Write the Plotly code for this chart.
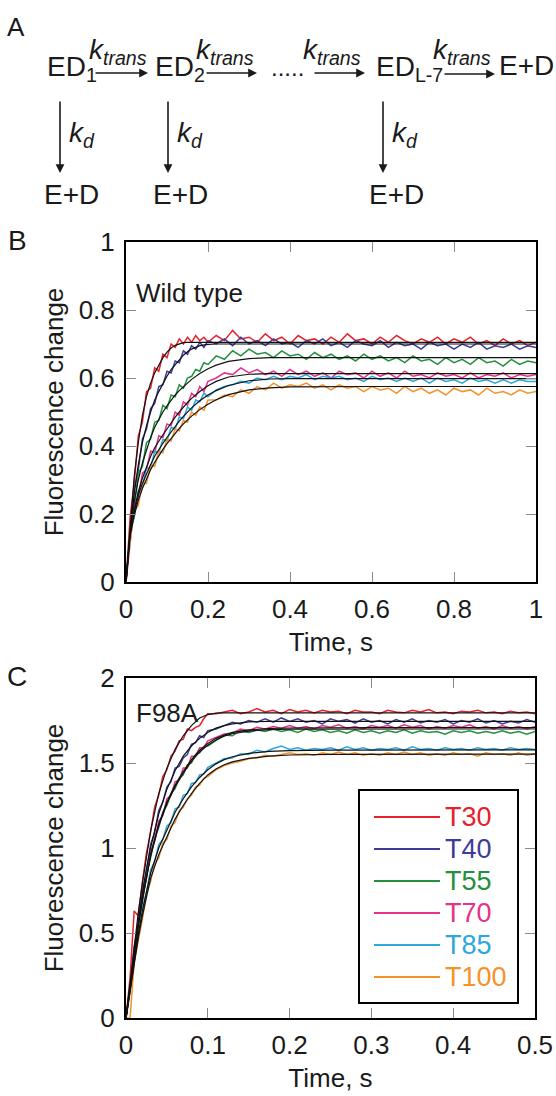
import plotly.graph_objects as go

# ---------------- data ----------------
series = ["T30", "T40", "T55", "T70", "T85", "T100"]
colors = ["#E8202A", "#3D3D99", "#22903C", "#E6338A", "#2BA8E0", "#F5922A"]

# Panel B (wild type), time in s
tB = [0.00, 0.01, 0.02, 0.03, 0.04, 0.05, 0.06, 0.07, 0.08, 0.09, 0.10, 0.11, 0.12, 0.13, 0.14,
      0.15, 0.16, 0.17, 0.18, 0.19, 0.20, 0.22, 0.24, 0.26, 0.28, 0.30, 0.32, 0.34, 0.36, 0.38,
      0.40, 0.42, 0.44, 0.46, 0.48, 0.50, 0.52, 0.54, 0.56, 0.58, 0.60, 0.62, 0.64, 0.66, 0.68,
      0.70, 0.72, 0.74, 0.76, 0.78, 0.80, 0.82, 0.84, 0.86, 0.88, 0.90, 0.92, 0.94, 0.96, 0.98, 1.00]

B_T30 = [0.0, 0.19, 0.29, 0.43, 0.47, 0.56, 0.57, 0.63, 0.62, 0.67, 0.66, 0.70, 0.69, 0.715, 0.70,
         0.72, 0.705, 0.725, 0.71, 0.72, 0.705,
         0.725, 0.71, 0.74, 0.715, 0.72, 0.705, 0.73, 0.71, 0.72, 0.70, 0.725, 0.71, 0.715, 0.70, 0.72,
         0.705, 0.73, 0.71, 0.715, 0.70, 0.72, 0.705, 0.725, 0.71, 0.70, 0.715, 0.705, 0.72, 0.70, 0.715,
         0.705, 0.72, 0.70, 0.71, 0.695, 0.715, 0.70, 0.71, 0.695, 0.705]
B_T40 = [0.0, 0.13, 0.27, 0.33, 0.42, 0.45, 0.51, 0.525, 0.575, 0.58, 0.62, 0.615, 0.65, 0.645, 0.68,
         0.67, 0.695, 0.685, 0.705, 0.69, 0.71,
         0.70, 0.715, 0.695, 0.72, 0.70, 0.71, 0.695, 0.715, 0.70, 0.705, 0.69, 0.71, 0.70, 0.715, 0.695,
         0.705, 0.69, 0.71, 0.70, 0.695, 0.71, 0.69, 0.705, 0.695, 0.70, 0.685, 0.705, 0.695, 0.70, 0.685,
         0.70, 0.69, 0.705, 0.685, 0.695, 0.69, 0.70, 0.685, 0.695, 0.69]
B_T55 = [0.0, 0.16, 0.22, 0.32, 0.34, 0.41, 0.42, 0.47, 0.475, 0.52, 0.51, 0.55, 0.545, 0.58, 0.57,
         0.60, 0.605, 0.625, 0.62, 0.645, 0.64,
         0.665, 0.655, 0.68, 0.665, 0.685, 0.67, 0.675, 0.66, 0.68, 0.665, 0.67, 0.655, 0.675, 0.66, 0.67,
         0.655, 0.665, 0.65, 0.67, 0.655, 0.665, 0.65, 0.66, 0.645, 0.665, 0.65, 0.655, 0.64, 0.66, 0.645,
         0.655, 0.64, 0.66, 0.645, 0.65, 0.635, 0.655, 0.64, 0.65, 0.645]
B_T70 = [0.0, 0.12, 0.23, 0.25, 0.32, 0.33, 0.385, 0.38, 0.43, 0.425, 0.465, 0.46, 0.50, 0.49, 0.53,
         0.52, 0.555, 0.545, 0.575, 0.56, 0.59,
         0.60, 0.615, 0.61, 0.63, 0.615, 0.625, 0.61, 0.62, 0.605, 0.625, 0.61, 0.62, 0.605, 0.615, 0.60,
         0.62, 0.61, 0.615, 0.60, 0.62, 0.605, 0.615, 0.60, 0.62, 0.605, 0.61, 0.60, 0.615, 0.605, 0.61,
         0.60, 0.615, 0.60, 0.61, 0.605, 0.615, 0.60, 0.61, 0.605, 0.61]
B_T85 = [0.0, 0.15, 0.19, 0.27, 0.28, 0.335, 0.335, 0.385, 0.38, 0.42, 0.415, 0.455, 0.45, 0.485, 0.48,
         0.515, 0.505, 0.535, 0.53, 0.555, 0.545,
         0.565, 0.575, 0.58, 0.59, 0.585, 0.60, 0.595, 0.605, 0.595, 0.605, 0.60, 0.61, 0.595, 0.605, 0.60,
         0.605, 0.595, 0.60, 0.59, 0.605, 0.595, 0.60, 0.59, 0.60, 0.59, 0.60, 0.585, 0.60, 0.59, 0.595,
         0.585, 0.60, 0.59, 0.595, 0.585, 0.595, 0.585, 0.595, 0.59, 0.59]
B_T100 = [0.0, 0.12, 0.21, 0.225, 0.29, 0.29, 0.345, 0.34, 0.385, 0.38, 0.42, 0.415, 0.45, 0.445, 0.475,
          0.47, 0.50, 0.49, 0.515, 0.505, 0.535,
          0.535, 0.55, 0.545, 0.565, 0.555, 0.575, 0.565, 0.585, 0.57, 0.58, 0.575, 0.585, 0.57, 0.58, 0.565,
          0.58, 0.57, 0.575, 0.56, 0.575, 0.565, 0.57, 0.555, 0.575, 0.56, 0.57, 0.555, 0.565, 0.55, 0.57,
          0.56, 0.565, 0.55, 0.57, 0.555, 0.56, 0.55, 0.565, 0.555, 0.56]

# Panel B fitted curves
tfB = [0, 0.01, 0.02, 0.03, 0.04, 0.05, 0.06, 0.07, 0.08, 0.09, 0.10, 0.11, 0.12, 0.13, 0.14,
       0.15, 0.16, 0.18, 0.20, 0.22, 0.25, 0.30, 0.35, 0.40, 0.50, 0.60, 0.80, 1.00]
fB_T30 = [0, 0.17, 0.31, 0.41, 0.49, 0.545, 0.585, 0.615, 0.64, 0.66, 0.676, 0.688, 0.696, 0.701, 0.704,
          0.705, 0.705, 0.705, 0.705, 0.705, 0.705, 0.705, 0.705, 0.705, 0.705, 0.705, 0.705, 0.705]
fB_T40 = [0, 0.15, 0.26, 0.345, 0.41, 0.46, 0.50, 0.535, 0.56, 0.585, 0.605, 0.625, 0.64, 0.655, 0.667,
          0.677, 0.685, 0.695, 0.699, 0.70, 0.70, 0.70, 0.70, 0.70, 0.70, 0.70, 0.70, 0.70]
fB_T55 = [0, 0.15, 0.235, 0.30, 0.35, 0.39, 0.425, 0.455, 0.48, 0.50, 0.518, 0.535, 0.55, 0.563, 0.575,
          0.586, 0.596, 0.613, 0.627, 0.638, 0.649, 0.657, 0.66, 0.66, 0.66, 0.66, 0.66, 0.66]
fB_T70 = [0, 0.14, 0.21, 0.265, 0.305, 0.34, 0.37, 0.395, 0.415, 0.433, 0.45, 0.468, 0.485, 0.50, 0.515,
          0.528, 0.54, 0.56, 0.577, 0.59, 0.603, 0.611, 0.613, 0.613, 0.613, 0.613, 0.613, 0.613]
fB_T85 = [0, 0.14, 0.205, 0.255, 0.29, 0.32, 0.345, 0.37, 0.39, 0.408, 0.425, 0.442, 0.458, 0.473, 0.487,
          0.50, 0.512, 0.533, 0.55, 0.563, 0.578, 0.592, 0.597, 0.598, 0.598, 0.598, 0.598, 0.598]
fB_T100 = [0, 0.135, 0.195, 0.24, 0.275, 0.305, 0.33, 0.352, 0.372, 0.39, 0.407, 0.423, 0.438, 0.452, 0.465,
           0.477, 0.488, 0.507, 0.523, 0.536, 0.551, 0.565, 0.571, 0.574, 0.575, 0.575, 0.575, 0.575]

# Panel C (F98A), time in s
tC = [0.000, 0.005, 0.010, 0.015, 0.020, 0.025, 0.030, 0.035, 0.040, 0.045, 0.050, 0.055, 0.060,
      0.065, 0.070, 0.075, 0.080, 0.085, 0.090, 0.095, 0.100, 0.11, 0.12, 0.13, 0.14, 0.15, 0.16,
      0.17, 0.18, 0.19, 0.20, 0.21, 0.22, 0.23, 0.24, 0.25, 0.26, 0.27, 0.28, 0.29, 0.30, 0.31,
      0.32, 0.33, 0.34, 0.35, 0.36, 0.37, 0.38, 0.39, 0.40, 0.41, 0.42, 0.43, 0.44, 0.45, 0.46,
      0.47, 0.48, 0.49, 0.50]

C_T30 = [0, 0.24, 0.63, 0.60, 0.80, 0.97, 1.09, 1.24, 1.31, 1.42, 1.46, 1.54, 1.57, 1.63, 1.64, 1.70,
         1.69, 1.71, 1.72, 1.76, 1.79,
         1.79, 1.80, 1.81, 1.79, 1.80, 1.82, 1.80, 1.81, 1.79, 1.815, 1.80, 1.81, 1.795, 1.81, 1.80,
         1.805, 1.79, 1.81, 1.80, 1.80, 1.79, 1.81, 1.80, 1.795, 1.81, 1.80, 1.815, 1.795, 1.80, 1.79,
         1.805, 1.80, 1.81, 1.795, 1.80, 1.79, 1.805, 1.795, 1.80, 1.79]
C_T40 = [0, 0.18, 0.42, 0.55, 0.75, 0.86, 1.02, 1.09, 1.22, 1.27, 1.36, 1.39, 1.47, 1.48, 1.53, 1.55,
         1.61, 1.62, 1.66, 1.65, 1.69,
         1.70, 1.72, 1.74, 1.73, 1.75, 1.74, 1.76, 1.74, 1.765, 1.745, 1.76, 1.74, 1.75, 1.73, 1.76,
         1.745, 1.755, 1.735, 1.76, 1.74, 1.75, 1.73, 1.755, 1.74, 1.76, 1.735, 1.75, 1.74, 1.755, 1.73,
         1.75, 1.74, 1.76, 1.735, 1.75, 1.73, 1.745, 1.735, 1.755, 1.74]
C_T55 = [0, 0.20, 0.36, 0.55, 0.68, 0.84, 0.94, 1.06, 1.12, 1.21, 1.25, 1.32, 1.35, 1.41, 1.43, 1.49,
         1.50, 1.55, 1.56, 1.595, 1.60,
         1.63, 1.665, 1.66, 1.69, 1.68, 1.695, 1.685, 1.70, 1.685, 1.695, 1.68, 1.70, 1.685, 1.695, 1.68,
         1.69, 1.675, 1.695, 1.68, 1.69, 1.675, 1.69, 1.68, 1.695, 1.675, 1.69, 1.68, 1.685, 1.67, 1.69,
         1.68, 1.69, 1.675, 1.685, 1.675, 1.69, 1.675, 1.685, 1.67, 1.685]
C_T70 = [0, 0.17, 0.39, 0.53, 0.72, 0.82, 0.98, 1.04, 1.16, 1.19, 1.29, 1.31, 1.39, 1.40, 1.47, 1.47,
         1.54, 1.54, 1.59, 1.59, 1.63,
         1.65, 1.67, 1.675, 1.70, 1.69, 1.71, 1.70, 1.715, 1.705, 1.72, 1.705, 1.715, 1.70, 1.72, 1.71,
         1.725, 1.705, 1.715, 1.70, 1.72, 1.71, 1.72, 1.705, 1.725, 1.71, 1.72, 1.70, 1.715, 1.705, 1.72,
         1.71, 1.725, 1.705, 1.715, 1.70, 1.72, 1.705, 1.715, 1.70, 1.715]
C_T85 = [0, 0.15, 0.36, 0.48, 0.64, 0.74, 0.87, 0.92, 1.02, 1.05, 1.13, 1.15, 1.23, 1.24, 1.31, 1.32,
         1.38, 1.385, 1.43, 1.435, 1.475,
         1.50, 1.525, 1.53, 1.555, 1.55, 1.575, 1.565, 1.585, 1.60, 1.58, 1.59, 1.575, 1.585, 1.58, 1.59,
         1.575, 1.595, 1.58, 1.59, 1.575, 1.585, 1.58, 1.59, 1.575, 1.595, 1.58, 1.585, 1.575, 1.59, 1.58,
         1.585, 1.575, 1.59, 1.58, 1.585, 1.575, 1.59, 1.58, 1.585, 1.58]
C_T100 = [0, 0, 0.33, 0.45, 0.58, 0.73, 0.80, 0.91, 0.94, 1.03, 1.05, 1.13, 1.15, 1.22, 1.24, 1.29,
          1.31, 1.36, 1.37, 1.41, 1.42,
          1.46, 1.485, 1.50, 1.51, 1.525, 1.53, 1.545, 1.54, 1.55, 1.56, 1.55, 1.555, 1.545, 1.56, 1.55,
          1.565, 1.55, 1.56, 1.545, 1.555, 1.545, 1.56, 1.55, 1.565, 1.55, 1.56, 1.545, 1.555, 1.545, 1.56,
          1.55, 1.555, 1.54, 1.56, 1.55, 1.555, 1.545, 1.56, 1.545, 1.555]

# Panel C fitted curves
tfC = [0, 0.005, 0.01, 0.015, 0.02, 0.025, 0.03, 0.04, 0.05, 0.06, 0.07, 0.08, 0.09, 0.10, 0.11,
       0.12, 0.13, 0.15, 0.175, 0.20, 0.25, 0.30, 0.40, 0.50]
fC_T30 = [0, 0.22, 0.42, 0.62, 0.79, 0.96, 1.10, 1.32, 1.47, 1.58, 1.66, 1.72, 1.765, 1.785, 1.793,
          1.795, 1.795, 1.795, 1.795, 1.795, 1.795, 1.795, 1.795, 1.795]
fC_T40 = [0, 0.20, 0.39, 0.57, 0.73, 0.88, 1.00, 1.20, 1.345, 1.455, 1.54, 1.60, 1.645, 1.68, 1.705,
          1.72, 1.73, 1.742, 1.745, 1.745, 1.745, 1.745, 1.745, 1.745]
fC_T55 = [0, 0.19, 0.37, 0.54, 0.69, 0.83, 0.95, 1.13, 1.26, 1.36, 1.44, 1.51, 1.565, 1.605, 1.635,
          1.658, 1.672, 1.688, 1.696, 1.699, 1.70, 1.70, 1.70, 1.70]
fC_T70 = [0, 0.19, 0.375, 0.55, 0.70, 0.84, 0.96, 1.14, 1.27, 1.37, 1.45, 1.52, 1.575, 1.615, 1.645,
          1.665, 1.68, 1.695, 1.703, 1.706, 1.708, 1.708, 1.708, 1.708]
fC_T85 = [0, 0.17, 0.34, 0.49, 0.63, 0.75, 0.85, 1.00, 1.11, 1.21, 1.29, 1.36, 1.415, 1.46, 1.495,
          1.52, 1.537, 1.557, 1.568, 1.573, 1.576, 1.577, 1.577, 1.577]
fC_T100 = [0, 0.16, 0.32, 0.47, 0.60, 0.72, 0.82, 0.96, 1.07, 1.17, 1.25, 1.32, 1.38, 1.43, 1.465,
           1.49, 1.507, 1.527, 1.54, 1.547, 1.551, 1.552, 1.552, 1.552]

B_data = [B_T30, B_T40, B_T55, B_T70, B_T85, B_T100]
B_fit = [fB_T30, fB_T40, fB_T55, fB_T70, fB_T85, fB_T100]
C_data = [C_T30, C_T40, C_T55, C_T70, C_T85, C_T100]
C_fit = [fC_T30, fC_T40, fC_T55, fC_T70, fC_T85, fC_T100]

# ---------------- figure ----------------
FONT = "Liberation Sans, Arial, Helvetica, sans-serif"
TXT = "#1a1a1a"
W, H = 556, 1096
ML, MR, MT, MB = 126, 20, 242, 78
PW, PH = W - ML - MR, H - MT - MB


def px(x):
    return (x - ML) / PW


def py(y):
    return (H - MB - y) / PH


fig = go.Figure()

for name, col, ys in zip(series, colors, B_data):
    fig.add_trace(go.Scatter(x=tB, y=ys, mode="lines", line=dict(color=col, width=1.5),
                             name=name, showlegend=False, xaxis="x", yaxis="y"))
for ys in B_fit:
    fig.add_trace(go.Scatter(x=tfB, y=ys, mode="lines", line=dict(color="#111111", width=1.2),
                             showlegend=False, xaxis="x", yaxis="y"))
for name, col, ys in zip(series, colors, C_data):
    fig.add_trace(go.Scatter(x=tC, y=ys, mode="lines", line=dict(color=col, width=1.5),
                             name=name, showlegend=False, xaxis="x2", yaxis="y2"))
for ys in C_fit:
    fig.add_trace(go.Scatter(x=tfC, y=ys, mode="lines", line=dict(color="#111111", width=1.2),
                             showlegend=False, xaxis="x2", yaxis="y2"))

axis_common = dict(showline=True, linecolor="black", linewidth=2, mirror="ticks",
                   ticks="inside", ticklen=10, tickwidth=1, tickcolor="#8a8a8a",
                   showgrid=False, zeroline=False, automargin=False,
                   tickfont=dict(family=FONT, size=26, color=TXT))

fig.update_layout(
    template="none",
    width=W, height=H, autosize=False,
    margin=dict(l=ML, r=MR, t=MT, b=MB, pad=0),
    paper_bgcolor="white", plot_bgcolor="white",
    font=dict(family=FONT, size=26, color=TXT),
    showlegend=False,
    xaxis=dict(domain=[0, 1], range=[0, 1], dtick=0.2, anchor="y",
               ticklabelstandoff=3,
               title=dict(text="Time, s", font=dict(size=26), standoff=10), **axis_common),
    yaxis=dict(domain=[py(582), 1], range=[0, 1], dtick=0.2, anchor="x",
               ticklabelstandoff=4,
               title=dict(text="Fluorescence change", font=dict(size=26), standoff=8), **axis_common),
    xaxis2=dict(domain=[0, px(535)], range=[0, 0.5], dtick=0.1, anchor="y2",
                ticklabelstandoff=3,
                title=dict(text="Time, s", font=dict(size=26), standoff=10), **axis_common),
    yaxis2=dict(domain=[0, py(678)], range=[0, 2], dtick=0.5, anchor="x2",
                ticklabelstandoff=4,
                title=dict(text="Fluorescence change", font=dict(size=26), standoff=8), **axis_common),
)

ann = []
shapes = []


def text(t, x, y, size=28, xanchor="left", color=TXT):
    ann.append(dict(text=t, x=px(x), y=py(y), xref="paper", yref="paper", showarrow=False,
                    xanchor=xanchor, yanchor="middle", borderpad=0,
                    font=dict(family=FONT, size=size, color=color)))


def arrow(x0, y0, x1, y1):
    ann.append(dict(text="", x=px(x1), y=py(y1), xref="paper", yref="paper",
                    ax=x0 - x1, ay=y0 - y1, axref="pixel", ayref="pixel",
                    showarrow=True, arrowhead=2, arrowsize=1.1, arrowwidth=1.6,
                    arrowcolor=TXT, standoff=0, startstandoff=0))


# panel letters
text("A", 16, 27, size=26, xanchor="center")
text("B", 17, 240, size=28, xanchor="center")
text("C", 17, 676, size=28, xanchor="center")

# scheme
text("ED<sub>1</sub>", 46, 69)
text("ED<sub>2</sub>", 154, 69)
text("ED<sub>L-7</sub>", 375, 69)
text("E+D", 498, 66)
text(".....", 270, 68, size=24)
for xl in (88, 195, 302, 432):
    text("<i>k</i><sub><i>trans</i></sub>", xl, 51)
arrow(94, 73, 148, 73)
arrow(205, 73, 257, 73)
arrow(313, 73, 365, 73)
arrow(443, 74, 495, 74)
for xa, xe in ((60, 43), (168, 152), (383, 368)):
    arrow(xa, 100, xa, 173)
    text("<i>k</i><sub><i>d</i></sub>", xa + 8, 134)
    text("E+D", xe, 194)

# in-plot labels
text("Wild type", 135, 293, size=26)
text("F98A", 135, 713, size=26)

# legend box for panel C
shapes.append(dict(type="rect", xref="paper", yref="paper", x0=px(359), x1=px(518),
                   y0=py(1003), y1=py(790), line=dict(color="black", width=2),
                   fillcolor="white", layer="above"))
row_y = [817, 849, 881, 913, 945, 977]
for name, col, yy in zip(series, colors, row_y):
    shapes.append(dict(type="line", xref="paper", yref="paper", x0=px(374), x1=px(440),
                       y0=py(yy), y1=py(yy), line=dict(color=col, width=2), layer="above"))
    text(name, 444, yy, size=27, color=col)

fig.update_layout(annotations=ann, shapes=shapes)
fig.write_html("out.html", config={"displayModeBar": False, "staticPlot": True},
               post_script="document.body.style.margin='0px';")
